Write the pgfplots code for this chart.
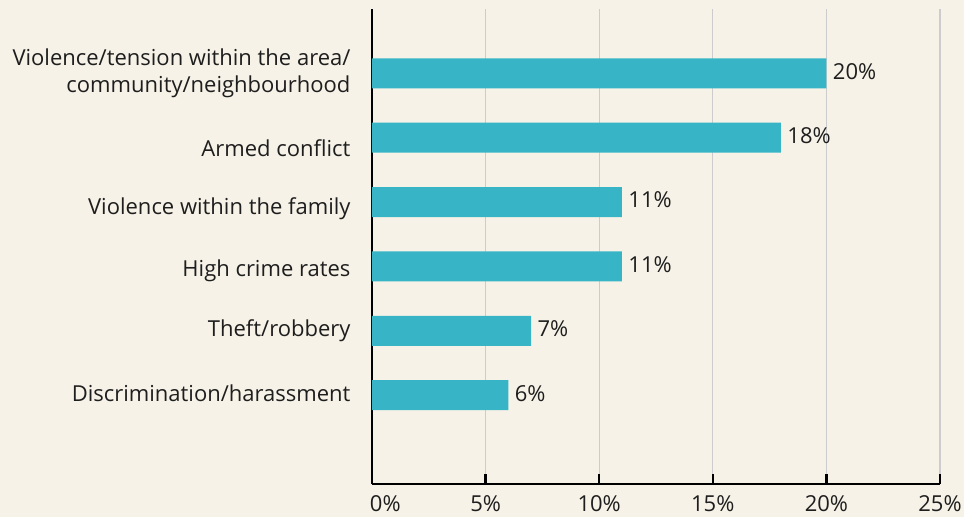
\documentclass[border=0pt]{standalone}
\usepackage{pgfplots}
\pgfplotsset{compat=1.18}
\usepackage{fontspec}
\setmainfont{Open Sans}
\definecolor{bg}{HTML}{F6F2E7}
\definecolor{barc}{HTML}{37B5C6}
\definecolor{gridc}{HTML}{CCCCCC}
\definecolor{txt}{HTML}{1E1E1E}
\begin{document}
\begin{tikzpicture}
\fill[bg] (-372pt,-33pt) rectangle (592pt,484pt);
\begin{axis}[
  at={(0pt,0pt)}, anchor=south west, scale only axis,
  width=568pt, height=475pt,
  xbar, bar width=30pt,
  xmin=0, xmax=25, ymin=-1, ymax=6.38, y dir=reverse,
  xtick={0,5,10,15,20,25},
  xticklabels={\makebox[0pt][l]{\hspace*{-2pt}0\%},5\%,10\%,15\%,20\%,25\%},
  ytick={0,1.155,2.11,3.06,4,4.97},
  yticklabels={{Violence/tension within the area/\\community/neighbourhood},{Armed conflict},{Violence within the family},{High crime rates},{Theft/robbery},{Discrimination/harassment}},
  axis x line*=bottom, axis y line*=left,
  axis line style={line width=2.5pt, black},
  x axis line style={-}, y axis line style={-},
  tick align=inside,
  xtick style={line width=2.5pt, black},
  major tick length=10pt,
  ytick style={draw=none},
  xmajorgrids, grid style={gridc, line width=1.3pt},
  ymajorgrids=false,
  tick label style={font=\fontsize{22}{27}\selectfont, text=txt},
  yticklabel style={align=right, xshift=-18pt},
  xticklabel style={yshift=-8pt},
  nodes near coords={\pgfmathprintnumber{\pgfplotspointmeta}\%},
  nodes near coords style={font=\fontsize{22}{26}\selectfont, text=txt, xshift=3pt, yshift=2pt, /pgf/number format/assume math mode=true, /pgf/number format/fixed, /pgf/number format/precision=0},
  point meta=x,
]
\addplot[fill=barc, draw=none] coordinates {(20,0) (18,1) (11,2) (11,3) (7,4) (6,5)};
\end{axis}
\pgfresetboundingbox
\useasboundingbox (-372pt,-33pt) rectangle (592pt,484pt);
\end{tikzpicture}
\end{document}
